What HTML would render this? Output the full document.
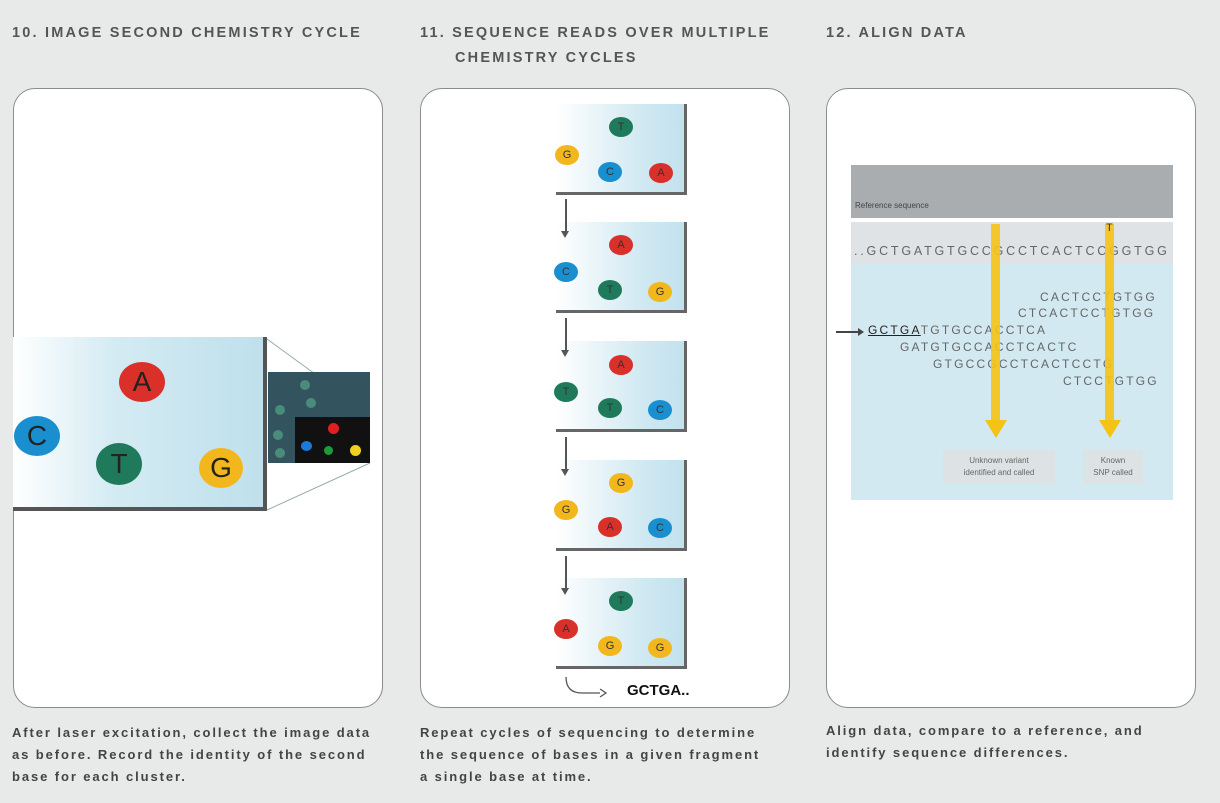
<!DOCTYPE html>
<html><head><style>
body{margin:0;width:1220px;height:803px;background:#e8eaea;position:relative;overflow:hidden;font-family:"Liberation Sans",sans-serif}
.t{position:absolute;font-weight:bold;font-size:14.5px;color:#555;letter-spacing:2.2px}
.card{position:absolute;top:88px;width:368px;height:618px;background:#fff;border:1.5px solid #8a8d8f;border-radius:22px}
.cap{position:absolute;font-size:13px;color:#444;font-weight:bold;line-height:22px;letter-spacing:1.9px;white-space:nowrap}
.c{position:absolute;border-radius:50%;text-align:center;color:#222;font-family:"Liberation Sans",sans-serif}
.fr{position:absolute;width:128px;height:88px;background:linear-gradient(90deg,#fff,#cfe8f1 70%,#c2e2ee);border-right:3px solid #666;border-bottom:3px solid #666}
.s{position:absolute;width:24px;height:20px;line-height:20px;font-size:11px;border-radius:50%;text-align:center;color:#333}
.R{background:#d9302a}.B{background:#1a8fd0}.Gn{background:#1f7a5c}.Y{background:#f3b71e}
.ar{position:absolute;left:565px;width:1.5px;height:34px;background:#555;z-index:5}
.ar:after{content:"";position:absolute;left:-4px;bottom:-5px;border-left:4.5px solid transparent;border-right:4.5px solid transparent;border-top:7px solid #555}
.seq{position:absolute;font-size:12px;color:#666;letter-spacing:2.2px;white-space:pre}
</style></head><body>
<div class="t" style="left:12px;top:25px">10. IMAGE SECOND CHEMISTRY CYCLE</div>
<div class="t" style="left:420px;top:25px">11. SEQUENCE READS OVER MULTIPLE</div>
<div class="t" style="left:455px;top:50px">CHEMISTRY CYCLES</div>
<div class="t" style="left:826px;top:25px">12. ALIGN DATA</div>

<div class="card" style="left:13px"></div>
<div class="card" style="left:420px"></div>
<div class="card" style="left:826px"></div>

<!-- panel 1 -->
<div style="position:absolute;left:13px;top:337px;width:250px;height:170px;background:linear-gradient(90deg,#fff,#d4ebf3 40%,#bfe0ec);border-right:4px solid #555;border-bottom:4px solid #555"></div>
<svg style="position:absolute;left:0;top:0" width="1220" height="803">
<line x1="267" y1="339" x2="370" y2="414" stroke="#9aa" stroke-width="1"/>
<line x1="267" y1="510" x2="370" y2="463" stroke="#9aa" stroke-width="1"/>
</svg>
<div style="position:absolute;left:268px;top:372px;width:102px;height:91px;background:#33545f"></div>
<div style="position:absolute;left:295px;top:417px;width:75px;height:46px;background:#111"></div>
<div class="c" style="left:275px;top:405px;width:10px;height:10px;background:#4a8c7a"></div>
<div class="c" style="left:300px;top:380px;width:10px;height:10px;background:#4a8c7a"></div>
<div class="c" style="left:306px;top:398px;width:10px;height:10px;background:#4a8c7a"></div>
<div class="c" style="left:273px;top:430px;width:10px;height:10px;background:#4a8c7a"></div>
<div class="c" style="left:275px;top:448px;width:10px;height:10px;background:#4a8c7a"></div>
<div class="c" style="left:328px;top:423px;width:11px;height:11px;background:#e02020"></div>
<div class="c" style="left:301px;top:441px;width:11px;height:10px;background:#1a7ad8"></div>
<div class="c" style="left:324px;top:446px;width:9px;height:9px;background:#1f9a3a"></div>
<div class="c" style="left:350px;top:445px;width:11px;height:11px;background:#f0d020"></div>
<div class="c R" style="left:119px;top:362px;width:46px;height:40px;line-height:40px;font-size:28px">A</div>
<div class="c B" style="left:14px;top:416px;width:46px;height:40px;line-height:40px;font-size:28px">C</div>
<div class="c Gn" style="left:96px;top:443px;width:46px;height:42px;line-height:42px;font-size:28px">T</div>
<div class="c Y" style="left:199px;top:448px;width:44px;height:40px;line-height:40px;font-size:28px">G</div>

<!-- panel 2 -->
<div class="fr" style="left:556px;top:104px"></div>
<div class="s Gn" style="left:609px;top:117px">T</div><div class="s Y" style="left:555px;top:145px">G</div><div class="s B" style="left:598px;top:162px">C</div><div class="s R" style="left:649px;top:163px">A</div>
<div class="ar" style="top:199px"></div>
<div class="fr" style="left:556px;top:222px"></div>
<div class="s R" style="left:609px;top:235px">A</div><div class="s B" style="left:554px;top:262px">C</div><div class="s Gn" style="left:598px;top:280px">T</div><div class="s Y" style="left:648px;top:282px">G</div>
<div class="ar" style="top:318px"></div>
<div class="fr" style="left:556px;top:341px"></div>
<div class="s R" style="left:609px;top:355px">A</div><div class="s Gn" style="left:554px;top:382px">T</div><div class="s Gn" style="left:598px;top:398px">T</div><div class="s B" style="left:648px;top:400px">C</div>
<div class="ar" style="top:437px"></div>
<div class="fr" style="left:556px;top:460px"></div>
<div class="s Y" style="left:609px;top:473px">G</div><div class="s Y" style="left:554px;top:500px">G</div><div class="s R" style="left:598px;top:517px">A</div><div class="s B" style="left:648px;top:518px">C</div>
<div class="ar" style="top:556px"></div>
<div class="fr" style="left:556px;top:578px"></div>
<div class="s Gn" style="left:609px;top:591px">T</div><div class="s R" style="left:554px;top:619px">A</div><div class="s Y" style="left:598px;top:636px">G</div><div class="s Y" style="left:648px;top:638px">G</div>
<svg style="position:absolute;left:560px;top:675px" width="60" height="30"><path d="M6 2 Q6 18 22 18 L40 18" fill="none" stroke="#555" stroke-width="1.3"/><path d="M40 14 L46 18 L40 22" fill="none" stroke="#555" stroke-width="1.3"/></svg>
<div style="position:absolute;left:627px;top:682px;font-size:15px;font-weight:bold;color:#111">GCTGA..</div>

<!-- panel 3 -->
<div style="position:absolute;left:851px;top:165px;width:322px;height:53px;background:#a9adb0"></div>
<div style="position:absolute;left:855px;top:201px;font-size:8px;color:#444">Reference sequence</div>
<div style="position:absolute;left:851px;top:222px;width:322px;height:42px;background:#dfe3e5"></div>
<div style="position:absolute;left:851px;top:264px;width:322px;height:236px;background:#d3e9f1"></div>
<div class="seq" style="left:854px;top:244px;font-size:12.5px;letter-spacing:2.8px">..GCTGATGTGCCGCCTCACTCCGGTGG</div>
<div class="seq" style="left:1040px;top:290px">CACTCCTGTGG</div>
<div class="seq" style="left:1018px;top:306px">CTCACTCCTGTGG</div>
<div class="seq" style="left:868px;top:323px"><span style="color:#222;text-decoration:underline">GCTGA</span>TGTGCCACCTCA</div>
<div class="seq" style="left:900px;top:340px">GATGTGCCACCTCACTC</div>
<div class="seq" style="left:933px;top:357px">GTGCCGCCTCACTCCTG</div>
<div class="seq" style="left:1063px;top:374px">CTCCTGTGG</div>
<div style="position:absolute;left:836px;top:331px;width:26px;height:1.5px;background:#444"></div>
<div style="position:absolute;left:858px;top:328px;border-top:4px solid transparent;border-bottom:4px solid transparent;border-left:6px solid #444"></div>
<div style="position:absolute;left:991px;top:224px;width:9px;height:198px;background:#f5c316;opacity:0.9"></div>
<div style="position:absolute;left:985px;top:420px;border-left:11px solid transparent;border-right:11px solid transparent;border-top:18px solid #f5c316"></div>
<div style="position:absolute;left:1105px;top:224px;width:9px;height:198px;background:#f5c316;opacity:0.9"></div>
<div style="position:absolute;left:1099px;top:420px;border-left:11px solid transparent;border-right:11px solid transparent;border-top:18px solid #f5c316"></div>
<div style="position:absolute;left:1106px;top:222px;font-size:11px;color:#333">T</div>
<div style="position:absolute;left:943px;top:450px;width:112px;height:34px;background:#dde2e5;font-size:8px;color:#666;text-align:center;line-height:12px;padding-top:5px;box-sizing:border-box">Unknown variant<br>identified and called</div>
<div style="position:absolute;left:1083px;top:450px;width:60px;height:34px;background:#dde2e5;font-size:8px;color:#666;text-align:center;line-height:12px;padding-top:5px;box-sizing:border-box">Known<br>SNP called</div>

<div class="cap" style="left:12px;top:722px">After laser excitation, collect the image data<br>as before. Record the identity of the second<br>base for each cluster.</div>
<div class="cap" style="left:420px;top:722px">Repeat cycles of sequencing to determine<br>the sequence of bases in a given fragment<br>a single base at time.</div>
<div class="cap" style="left:826px;top:720px">Align data, compare to a reference, and<br>identify sequence differences.</div>
</body></html>
